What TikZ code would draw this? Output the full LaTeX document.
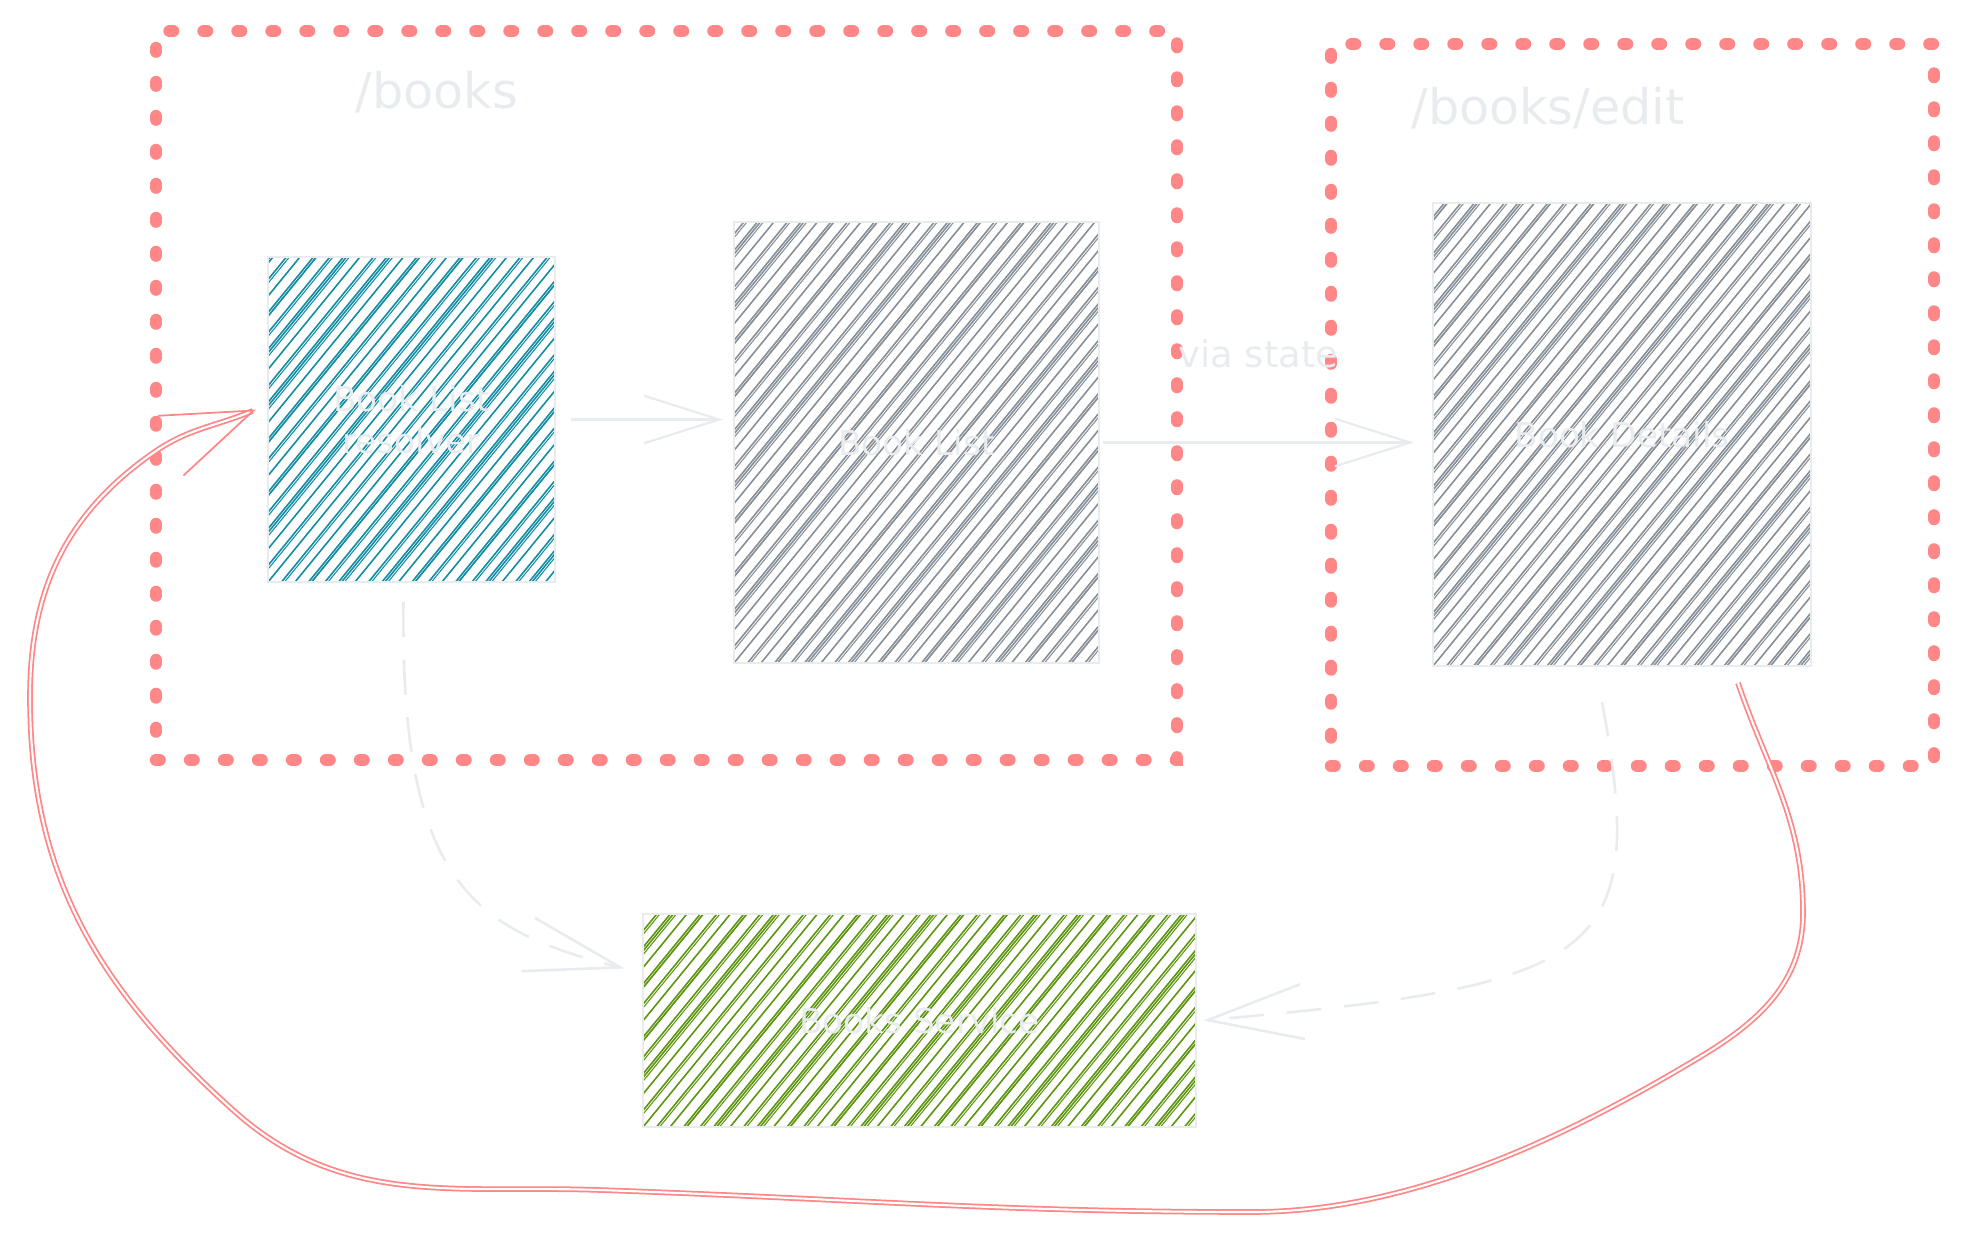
\documentclass[tikz,border=0pt]{standalone}
\usepackage{fontspec}
\setmainfont{DejaVu Sans}
\usepackage{tikz}
\usetikzlibrary{arrows.meta,positioning,calc}
\definecolor{framered}{HTML}{FF8787}
\definecolor{sketchgrey}{HTML}{E9ECEF}
\definecolor{hatchteal}{RGB}{16,140,163}
\definecolor{hatchgrey}{HTML}{868E96}
\definecolor{hatchgreen}{HTML}{5C940D}

\begin{document}
\begin{tikzpicture}[x=0.02cm, y=-0.02cm,
    every node/.style={text=sketchgrey},
    routeframe/.style={draw=framered, line width=0.25cm, line cap=round, dash pattern=on 0.07cm off 0.61cm, inner sep=0},
    routelabel/.style={font=\fontsize{28}{34}\selectfont},
    hatched/.style={path picture={
      \foreach \k in {-40,...,60}{
        \pgfmathsetmacro\jit{0.03*mod(\k*37,7)}
        \draw[#1, line width=0.9pt] ($(path picture bounding box.south west)+(\k*0.21cm+\jit cm,0)$) -- ++(9cm,11cm);
        \ifodd\k
          \draw[#1, line width=0.6pt] ($(path picture bounding box.south west)+(\k*0.21cm+\jit cm+0.06cm,0)$) -- ++(9cm,11cm);
        \fi
      }}},
    box/.style={draw=sketchgrey, line width=1.3pt, align=center, inner sep=0, font=\fontsize{19.5}{24}\selectfont},
    flowarrow/.style={draw=sketchgrey, line width=1.3pt, -{Straight Barb[length=1.5cm, width=0.95cm]}},
    dashflow/.style={draw=sketchgrey, line width=1.5pt, dash pattern=on 0.7cm off 0.45cm, -{Straight Barb[length=1.9cm, width=1.1cm]}},
    backline/.style={draw=framered, line width=1pt, double=white, double distance=1.2pt, -{Straight Barb[length=1.8cm, width=1.3cm]}}]
  \useasboundingbox (0,0) rectangle (1963,1247);

  % route frames
  \node[routeframe, minimum width=20.42cm, minimum height=14.58cm] (booksframe) at (666.5,395.5) {};
  \node[routeframe, minimum width=12.06cm, minimum height=14.44cm] (editframe) at (1632.5,405) {};
  \node[routelabel] (bookslabel) at (437,92) {/books};
  \node[routelabel] (editlabel) at (1548,108) {/books/edit};

  % components
  \node[box, hatched=hatchteal, minimum width=5.74cm, minimum height=6.5cm] (resolver) at (411.5,419.5) {Book List\\resolver};
  \node[box, hatched=hatchgrey, minimum width=7.3cm, minimum height=8.82cm] (booklist) at (916.5,442.5) {Book List};
  \node[box, hatched=hatchgrey, minimum width=7.56cm, minimum height=9.26cm] (details) at (1622,434.5) {Book Details};
  \node[box, hatched=hatchgreen, minimum width=11.06cm, minimum height=4.26cm] (service) at (919.5,1020.5) {Books Service};

  % connections
  \draw[flowarrow] ([xshift=0.3cm]resolver.east) -- ([xshift=-0.2cm]resolver.east -| booklist.west);
  \draw[flowarrow] ([xshift=0.06cm]booklist.east) -- node[midway, above=1.35cm, font=\fontsize{21}{25}\selectfont] (vialabel) {via state} ([xshift=-0.36cm]booklist.east -| details.west);
  \draw[dashflow] ([xshift=-0.16cm,yshift=-0.38cm]resolver.south) .. controls (400,880) and (470,930) .. ($(service.west)+(-17,-52)$);
  \draw[dashflow] ([xshift=-0.4cm,yshift=-0.7cm]details.south) .. controls (1650,960) and (1600,985) .. ([xshift=0.12cm]service.east);

  % back to the resolver
  \coordinate (loopstart) at ($(details.south)!0.61!(details.south east)+(0,16)$);
  \coordinate (loopend) at ($(resolver.west)+(-11,-10)$);
  \draw[backline] (loopstart) to[out=-71, in=90] (1803,913) to[out=-90, in=31] (1700,1057)
    to[out=-149, in=0, looseness=0.85] (1252,1212) to[out=180, in=-2] (600,1190) to[out=178, in=-42] (233,1110)
    to[out=138, in=-90] (30,697) to[out=90, in=-145] (153,453) to[out=35, in=-157] (loopend);
\end{tikzpicture}
\end{document}
